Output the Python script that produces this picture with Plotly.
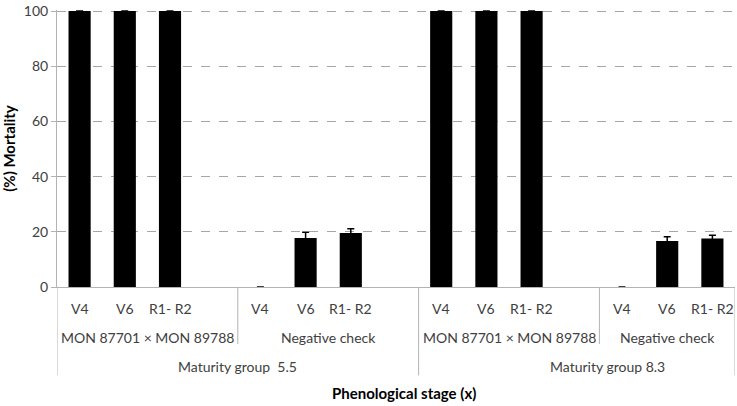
import plotly.graph_objects as go

# ---- data ----
groups = ["Maturity group  5.5", "Maturity group 8.3"]
treatments = ["MON 87701 × MON 89788", "Negative check"]
stages = ["V4", "V6", "R1- R2"]

mortality_55_mon = [100, 100, 100]
mortality_55_neg = [0, 17.8, 19.6]
mortality_83_mon = [100, 100, 100]
mortality_83_neg = [0, 16.7, 17.6]

err_55_mon = [0, 0, 0]
err_55_neg = [0, 2.0, 1.5]
err_83_mon = [0, 0, 0]
err_83_neg = [0, 1.5, 1.2]

y_ticks = [0, 20, 40, 60, 80, 100]

values = {
    (0, 0): (mortality_55_mon, err_55_mon),
    (0, 1): (mortality_55_neg, err_55_neg),
    (1, 0): (mortality_83_mon, err_83_mon),
    (1, 1): (mortality_83_neg, err_83_neg),
}

# ---- build categories (with a blank slot between treatment blocks) ----
cats, ys, es, labels = [], [], [], []
treat_spans, group_spans, dividers = [], [], []
blank_n = 0
n_blocks = len(groups) * len(treatments)
block = 0
for gi, g in enumerate(groups):
    g_start = len(cats)
    for ti, t in enumerate(treatments):
        t_start = len(cats)
        v, e = values[(gi, ti)]
        for si, s in enumerate(stages):
            cats.append(f"{g}|{t}|{s}")
            ys.append(v[si])
            es.append(e[si] if (e[si] and v[si]) else None)
            labels.append(s)
        block += 1
        if block < n_blocks:
            blank_n += 1
            cats.append(" " * blank_n)
            ys.append(None); es.append(None); labels.append("")
            dividers.append((len(cats) - 0.5, "full" if ti == len(treatments) - 1 else "short"))
        treat_spans.append((t, t_start, len(cats) - 1))
    group_spans.append((g, g_start, len(cats) - 1))

bar_colors = ["black" if (y is not None and y > 0) else "rgba(0,0,0,0)" for y in ys]

fig = go.Figure()
fig.add_trace(go.Bar(
    x=cats, y=ys,
    marker=dict(color=bar_colors, line=dict(width=0)),
    error_y=dict(type="data", array=es, visible=True, color="black", thickness=1.5, width=3.5),
    width=0.49,
))

font_family = "Lato, 'Open Sans', Arial, sans-serif"
txt_color = "#404040"
annotations = []
# stage labels
for i, lab in enumerate(labels):
    if lab:
        annotations.append(dict(x=cats[i], y=-0.078, xref="x", yref="paper", text=lab,
                                showarrow=False, xanchor="center", yanchor="middle",
                                font=dict(size=14, color=txt_color, family=font_family)))
# treatment labels
for t, a, b in treat_spans:
    annotations.append(dict(x=(a + b) / 2, y=-0.181, xref="x", yref="paper", text=t,
                            showarrow=False, xanchor="center", yanchor="middle",
                            font=dict(size=14, color=txt_color, family=font_family)))
# group labels
for gi, (g, a, b) in enumerate(group_spans):
    annotations.append(dict(x=(a + b) / 2, y=-0.287, xref="x", yref="paper", text=g,
                            showarrow=False, xanchor="center", yanchor="middle",
                            xshift=0 if gi == 0 else 31,
                            font=dict(size=14, color=txt_color, family=font_family)))
# x axis title
annotations.append(dict(x=0.512, y=-0.381, xref="paper", yref="paper",
                        text="<b>Phenological stage (x)</b>", showarrow=False,
                        xanchor="center", yanchor="middle",
                        font=dict(size=15, color="black", family=font_family)))

shapes = []
line_col = "#b3b3b3"
edges = [(-0.5, "full")] + dividers + [(len(cats) - 0.5, "full")]
for xpos, kind in edges:
    shapes.append(dict(type="line", xref="x", yref="paper", x0=xpos, x1=xpos,
                       y0=0, y1=-0.319 if kind == "full" else -0.206,
                       line=dict(color=line_col, width=1)))

fig.update_layout(
    width=737, height=406,
    margin=dict(l=57, r=2, t=5, b=119),
    plot_bgcolor="white", paper_bgcolor="white",
    showlegend=False,
    annotations=annotations, shapes=shapes,
    bargap=0.51,
    font=dict(family=font_family, color=txt_color, size=14),
)
fig.update_xaxes(type="category", categoryorder="array", categoryarray=cats,
                 showticklabels=False, ticks="", showgrid=False,
                 showline=True, linecolor=line_col, linewidth=1,
                 range=[-0.5, len(cats) - 0.5])
fig.update_yaxes(range=[0, 100.4], tickvals=y_ticks, showgrid=True,
                 gridcolor="#a6a6a6", griddash="dash", gridwidth=1,
                 showline=True, linecolor=line_col, linewidth=1,
                 ticks="outside", ticklen=5, tickcolor=line_col,
                 ticklabeloverflow="allow",
                 tickfont=dict(size=14, color=txt_color, family=font_family),
                 title=dict(text="<b>(%) Mortality</b>", standoff=4,
                            font=dict(size=15, color="black", family=font_family)),
                 zeroline=False)

fig.write_html("out.html", config={"displayModeBar": False},
               post_script="document.body.style.margin='0';")
